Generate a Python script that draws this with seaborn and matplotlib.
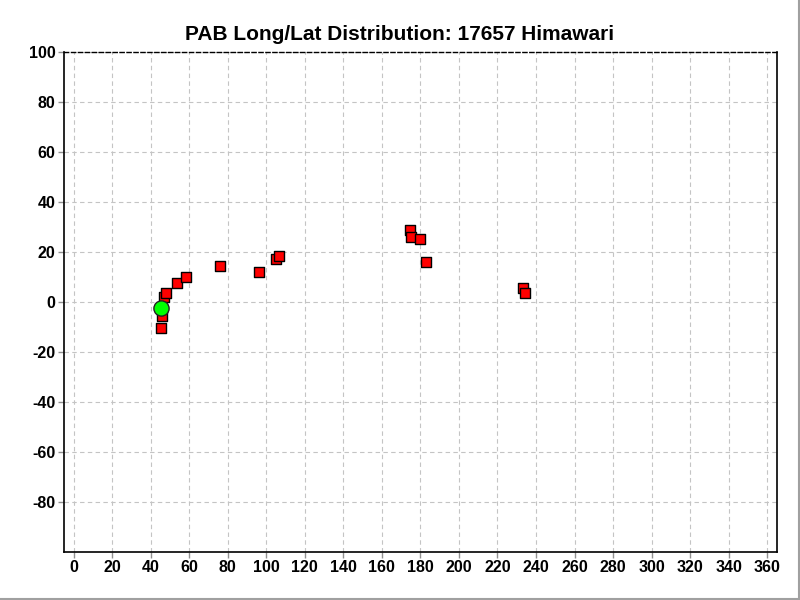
import matplotlib
matplotlib.use("Agg")
import matplotlib.pyplot as plt
import seaborn as sns
import pandas as pd
from matplotlib.lines import Line2D

# Data
pab_lon = [45.4, 45.9, 46.8, 48.2, 53.4, 58.1, 75.9, 96.4, 105.1, 106.8,
           174.4, 175.1, 179.6, 182.7, 233.2, 234.2]
pab_lat = [-10.5, -5.6, 1.9, 3.5, 7.5, 9.9, 14.4, 11.9, 17.1, 18.4,
           28.9, 25.9, 25.1, 15.9, 5.5, 3.6]
obj_lon = [45.6]
obj_lat = [-2.5]
x_ticks = list(range(0, 361, 20))
y_ticks = list(range(-80, 101, 20))
title = "PAB Long/Lat Distribution: 17657 Himawari"

sns.set_theme(style="white")
plt.rcParams['font.family'] = ['Liberation Sans', 'DejaVu Sans']
plt.rcParams['axes.unicode_minus'] = False

fig = plt.figure(figsize=(8, 6), dpi=100)
ax = fig.add_axes([0.08, 0.08, 0.891, 0.8333])

df_pab = pd.DataFrame({"lon": pab_lon, "lat": pab_lat})
df_obj = pd.DataFrame({"lon": obj_lon, "lat": obj_lat})

sns.scatterplot(data=df_pab, x="lon", y="lat", marker="s", s=45,
                color="#ff0000", edgecolor="black", linewidth=1.0, ax=ax, zorder=3)
sns.scatterplot(data=df_obj, x="lon", y="lat", marker="o", s=120,
                color="#00ff00", edgecolor="#202020", linewidth=1.0, ax=ax, zorder=4)

ax.set_xlim(-5, 365)
ax.set_ylim(-100, 100)
ax.set_xticks(x_ticks)
ax.set_yticks(y_ticks)
ax.set_xlabel("")
ax.set_ylabel("")

ax.grid(True, color="#c4c4c4", linestyle=(0, (4, 3)), linewidth=0.8)
ax.set_axisbelow(True)

for side in ["left", "bottom", "right"]:
    ax.spines[side].set_color("black")
    ax.spines[side].set_linewidth(1.2)
    ax.spines[side].set_visible(True)
ax.spines["top"].set_visible(True)
ax.spines["top"].set_color("black")
ax.spines["top"].set_linestyle((0, (3, 2)))
ax.spines["top"].set_linewidth(1.0)

ax.tick_params(axis="both", direction="out", length=4, width=1, color="#909090",
               labelsize=11.5, pad=2, bottom=True, left=True)
for lbl in ax.get_xticklabels() + ax.get_yticklabels():
    lbl.set_fontweight("bold")
    lbl.set_color("black")

fig.text(0.5, 1 - 35 / 600, title, fontsize=15, fontweight="bold", color="black",
         ha="center", va="center")

# window border lines at right and bottom
fig.add_artist(Line2D([0.999, 0.999], [0, 1], transform=fig.transFigure, color="#a0a0a0", linewidth=1.5))
fig.add_artist(Line2D([0, 1], [0.001, 0.001], transform=fig.transFigure, color="#a0a0a0", linewidth=1.5))

fig.savefig("out.png", dpi=100)
